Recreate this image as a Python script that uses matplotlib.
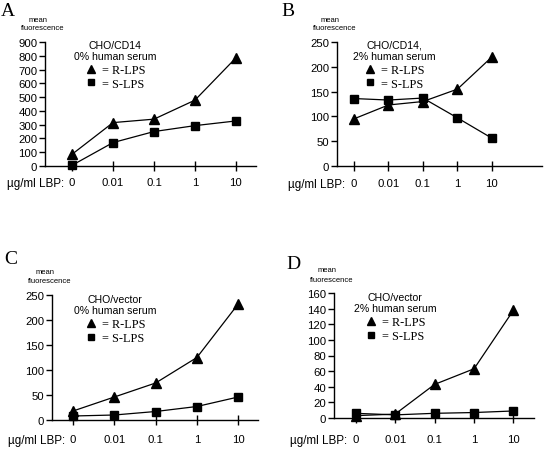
import matplotlib
matplotlib.use("Agg")
import matplotlib.pyplot as plt
from matplotlib.lines import Line2D

W, H = 544, 464

# LBP concentrations (categorical x axis)
lbp_labels = ["0", "0.01", "0.1", "1", "10"]

# mean fluorescence
a_r_lps = [85, 315, 340, 478, 785]
a_s_lps = [5, 170, 250, 293, 327]
b_r_lps = [95, 123, 130, 155, 220]
b_s_lps = [136, 133, 137, 97, 56]
c_r_lps = [18, 46, 74, 125, 232]
c_s_lps = [8, 10, 17, 27, 46]
d_r_lps = [3, 5, 43, 63, 138]
d_s_lps = [6, 4, 6, 7, 9]

panels = [
    # letter, title, R, S, ymax, ystep, axes box (px: left, top, right, bottom), xlim,
    # letter pos (px), legend anchor (axes fraction), x label drop (px)
    ("A", "CHO/CD14\n0% human serum", a_r_lps, a_s_lps, 900, 100, (45, 43, 256, 167),
     (-0.66, 4.49), (1, 3), (0.137, 1.02), 16),
    ("B", "CHO/CD14,\n2% human serum", b_r_lps, b_s_lps, 250, 50, (337, 43, 542, 167),
     (-0.49, 5.45), (281, 3), (0.078, 1.02), 17),
    ("C", "CHO/vector\n0% human serum", c_r_lps, c_s_lps, 250, 50, (52, 296, 258, 421),
     (-0.51, 4.48), (4, 251), (0.107, 1.01), 19),
    ("D", "CHO/vector\n2% human serum", d_r_lps, d_s_lps, 160, 20, (334, 294, 534, 419),
     (-0.55, 4.52), (286, 256), (0.10, 1.01), 21),
]

sans = "Liberation Sans"
serif = "Liberation Serif"

fig = plt.figure(figsize=(W / 100, H / 100), dpi=100)
fig.patch.set_facecolor("white")

for letter, title, r_vals, s_vals, ymax, ystep, box, xlim, lpos, leg_xy, drop in panels:
    l, t, r, b = box
    ax = fig.add_axes([l / W, 1 - b / H, (r - l) / W, (b - t) / H])
    x = list(range(len(lbp_labels)))
    ax.plot(x, r_vals, color="black", lw=0.9, marker="^", ms=7, clip_on=False, zorder=3)
    ax.plot(x, s_vals, color="black", lw=0.9, marker="s", ms=5.2, clip_on=False, zorder=3)
    ax.set_xlim(*xlim)
    ax.set_ylim(0, ymax)
    ax.set_yticks(range(0, ymax + 1, ystep))
    ax.set_xticks(x)
    ax.set_xticklabels(lbp_labels)
    for s in ("top", "right"):
        ax.spines[s].set_visible(False)
    for s in ("left", "bottom"):
        ax.spines[s].set_linewidth(1.0)
    ax.tick_params(axis="y", direction="out", length=4, width=1, pad=1.5, labelsize=8.2)
    ax.tick_params(axis="x", direction="inout", length=7, width=1,
                   pad=4.5 + (drop - 16) * 0.72, labelsize=8.2)
    for lab in ax.get_xticklabels() + ax.get_yticklabels():
        lab.set_fontfamily(sans)

    handles = [
        Line2D([], [], color="black", marker="^", ls="none", ms=5.5),
        Line2D([], [], color="black", marker="s", ls="none", ms=4.2),
    ]
    leg = ax.legend(handles, ["= R-LPS", "= S-LPS"], title=title, loc="upper left",
                    bbox_to_anchor=leg_xy, frameon=False, borderaxespad=0,
                    prop={"family": serif, "size": 8.8}, handlelength=1.0,
                    handletextpad=0.4, labelspacing=0.15, borderpad=0,
                    title_fontproperties={"family": sans, "size": 7.6})
    leg.get_title().set_multialignment("center")
    leg._legend_box.align = "center"
    leg._legend_box.sep = 2

    # panel letter and axis annotations
    fig.text(lpos[0] / W, 1 - lpos[1] / H, letter, family=serif, fontsize=14,
             ha="left", va="top")
    fig.text((l - 7) / W, 1 - (t - 23) / H, "mean", family=sans, fontsize=5.5,
             ha="center", va="center")
    fig.text((l - 2) / W, 1 - (t - 14) / H, "fluorescence", family=sans, fontsize=5.5,
             ha="center", va="center")
    ax.annotate("µg/ml LBP:", xy=(0, 0), xycoords=("data", "axes fraction"),
                xytext=(-6, -(drop * 0.72 + 1)), textcoords="offset points", family=sans,
                fontsize=8.4, ha="right", va="center")

fig.savefig("out.png", dpi=100)
